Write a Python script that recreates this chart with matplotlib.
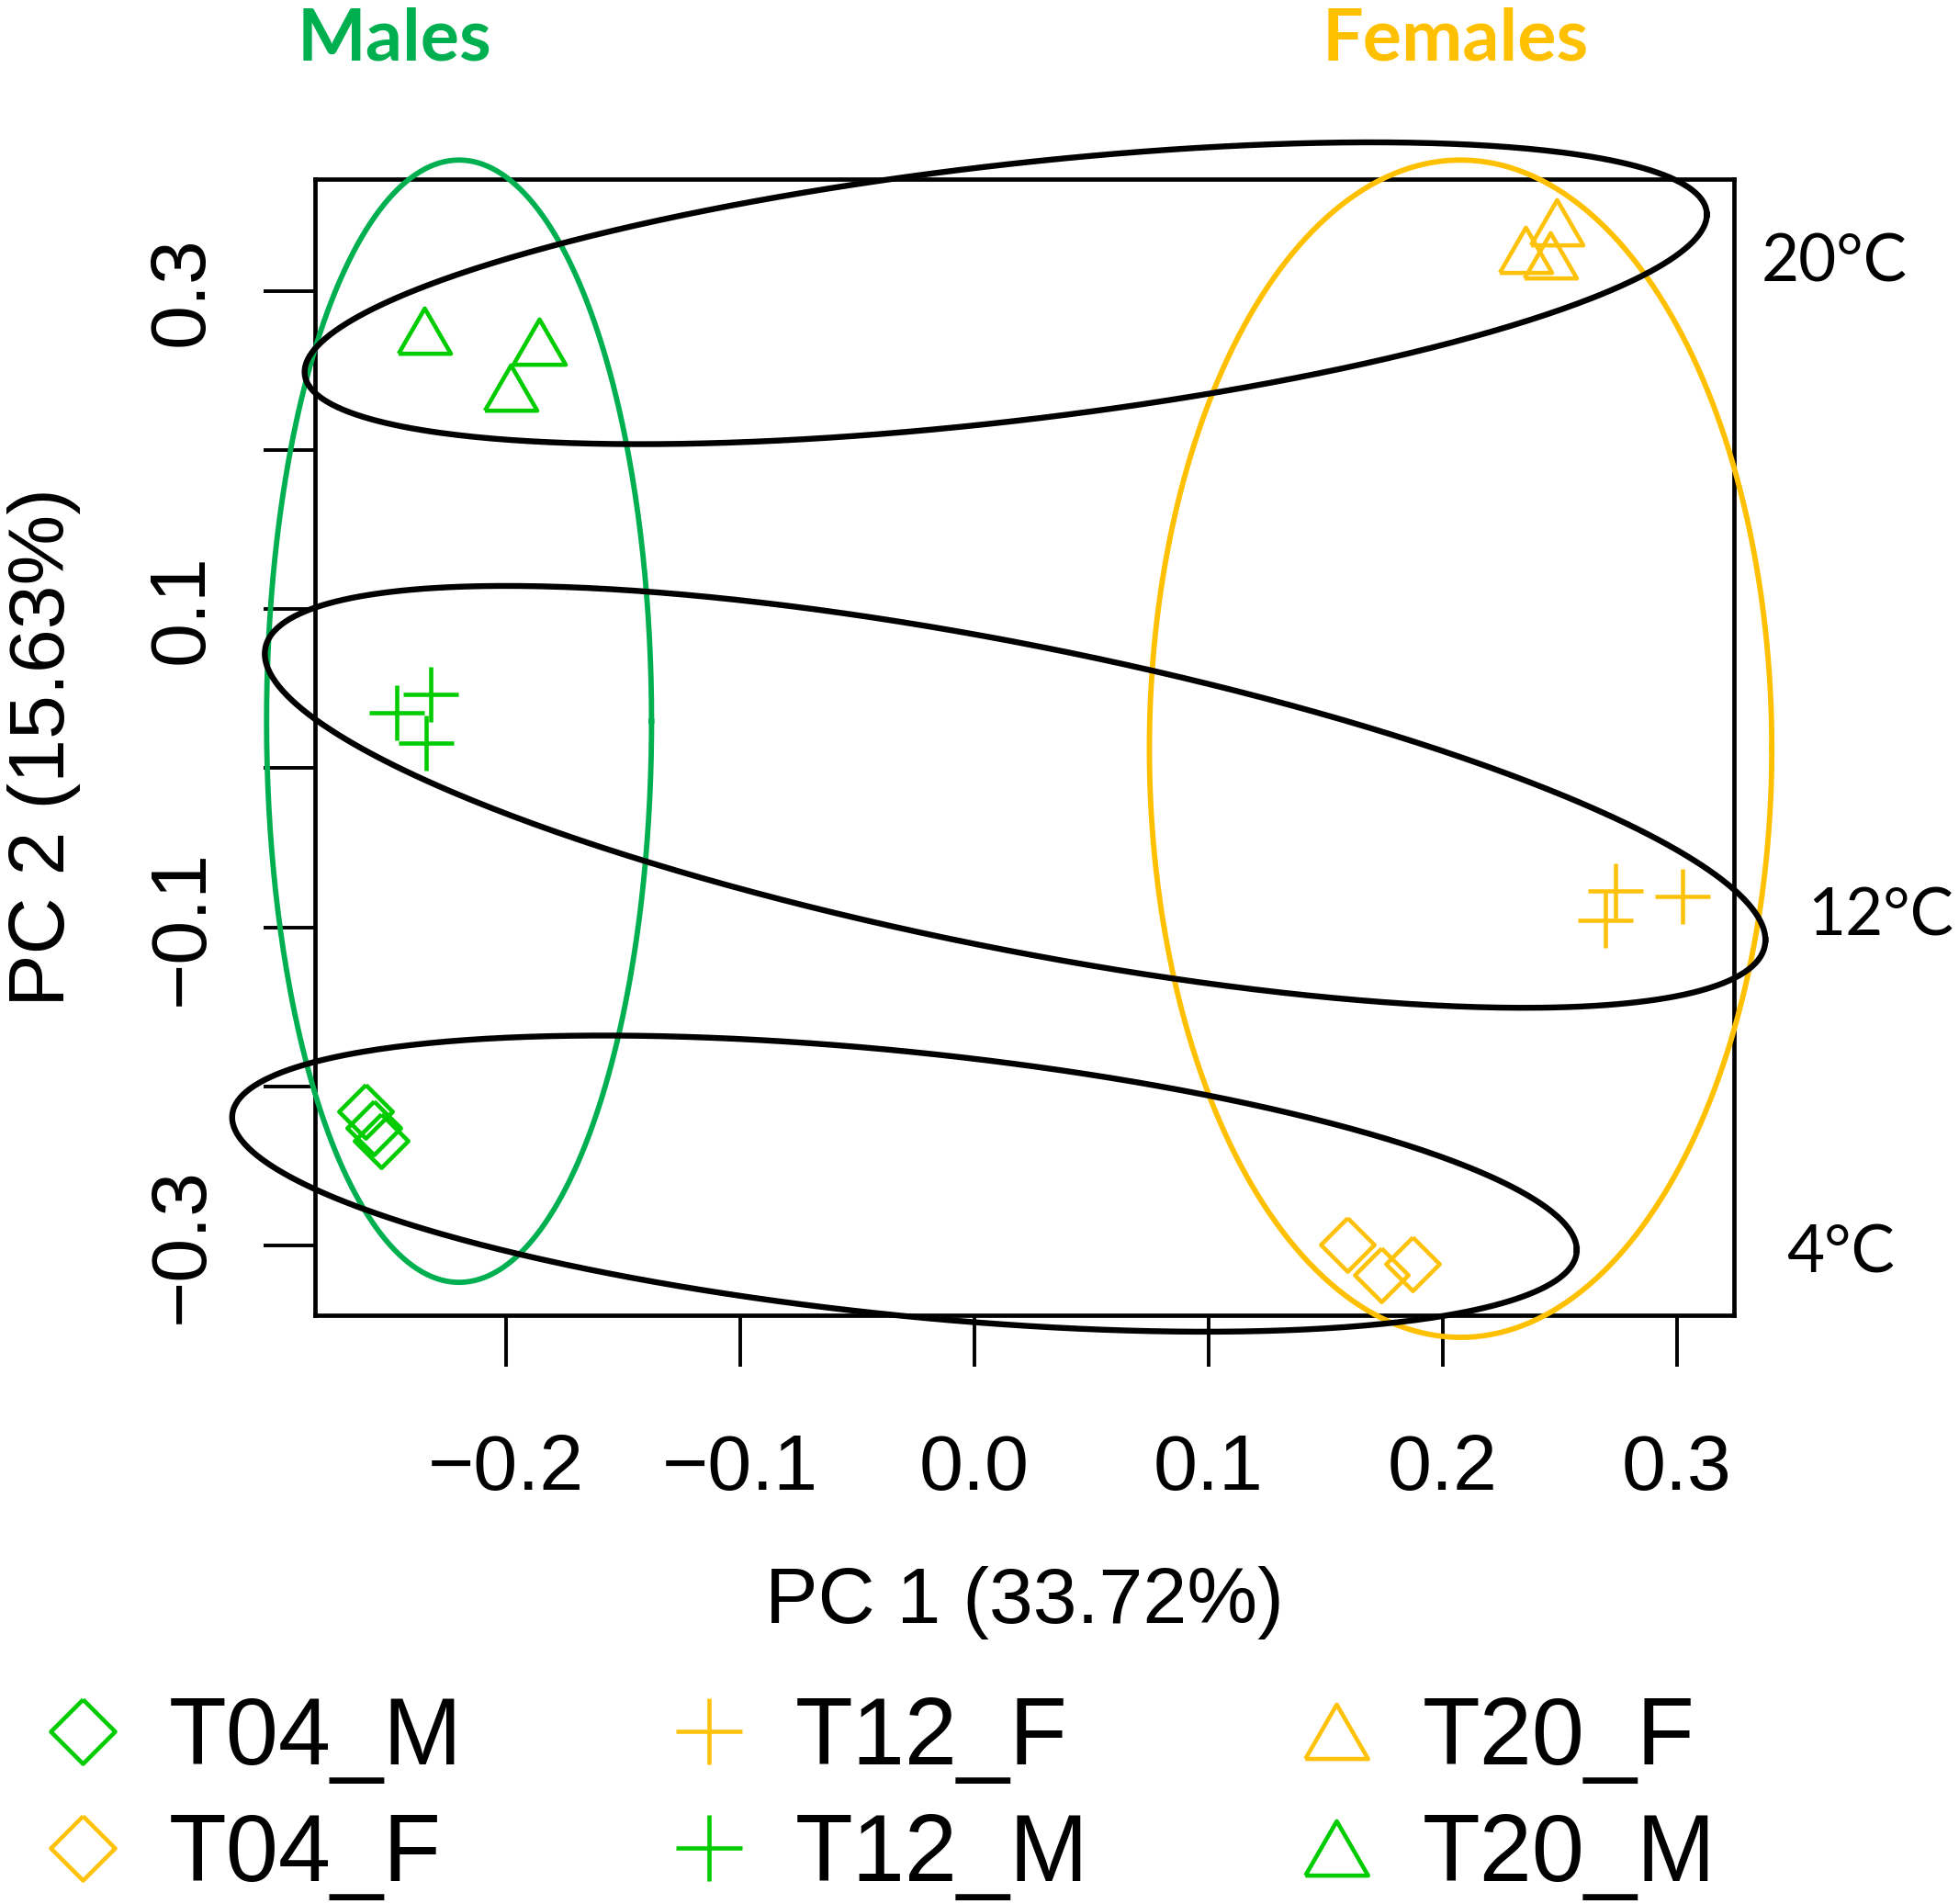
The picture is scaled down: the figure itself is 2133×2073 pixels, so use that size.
import numpy as np
import matplotlib.pyplot as plt

plt.rcParams['font.family'] = ['Liberation Sans', 'DejaVu Sans']

# PCA scores (PC1, PC2)
t04_m_x = [-0.2599, -0.2566, -0.2533]
t04_m_y = [-0.2157, -0.2263, -0.2341]
t04_f_x = [0.1595, 0.1739, 0.1873]
t04_f_y = [-0.2995, -0.3187, -0.3120]
t12_f_x = [0.2739, 0.2695, 0.3024]
t12_f_y = [-0.0771, -0.0954, -0.0809]
t12_m_x = [-0.2468, -0.2320, -0.2341]
t12_m_y = [0.0350, 0.0465, 0.0157]
t20_f_x = [0.2488, 0.2354, 0.2461]
t20_f_y = [0.3432, 0.3260, 0.3228]
t20_m_x = [-0.2347, -0.1860, -0.1980]
t20_m_y = [0.2750, 0.2686, 0.2395]

# hand drawn group ellipses: centre, x half-extent, y shift at the x extreme, half height at centre
ell_names = ['Males', 'Females', '20C', '12C', '4C']
ell_cx = [-0.2200, 0.2077, 0.01345, 0.01745, -0.0298]
ell_cy = [0.0296, 0.0123, 0.2988, -0.0180, -0.2613]
ell_a = [0.0822, 0.1329, 0.2994, 0.3204, 0.2871]
ell_b = [0.0, 0.0, 0.0495, -0.0900, -0.0417]
ell_d = [0.3530, 0.3703, 0.0810, 0.0975, 0.0833]
ell_col = ['#00B050', '#FFC000', 'black', 'black', 'black']

green = '#00CC00'
gold = '#FFC20A'

tri = [(-1, -0.866), (1, -0.866), (0, 0.866), (-1, -0.866)]
dia = [(0, 1), (1, 0), (0, -1), (-1, 0), (0, 1)]

fig = plt.figure(figsize=(21.33, 20.73), dpi=100)
ax = fig.add_axes([0.1607, 0.3093, 0.7245, 0.5968])

kw = dict(ls='none', mfc='none', mew=3.3)
ax.plot(t04_m_x, t04_m_y, marker=dia, ms=42, mec=green, label='T04_M', **kw)
ax.plot(t04_f_x, t04_f_y, marker=dia, ms=42, mec=gold, label='T04_F', **kw)
ax.plot(t12_f_x, t12_f_y, marker='+', ms=43, mec=gold, label='T12_F', **kw)
ax.plot(t12_m_x, t12_m_y, marker='+', ms=43, mec=green, label='T12_M', **kw)
ax.plot(t20_f_x, t20_f_y, marker=tri, ms=41, mec=gold, label='T20_F', **kw)
ax.plot(t20_m_x, t20_m_y, marker=tri, ms=41, mec=green, label='T20_M', **kw)

t = np.linspace(0, 2 * np.pi, 500)
for i in range(len(ell_names)):
    ex = ell_cx[i] + ell_a[i] * np.cos(t)
    ey = ell_cy[i] + ell_b[i] * np.cos(t) + ell_d[i] * np.sin(t)
    lw = 4.6 if ell_col[i] == 'black' else 4.2
    ax.plot(ex, ey, color=ell_col[i], lw=lw, clip_on=False, zorder=3)

ax.set_xlim(-0.2816, 0.3245)
ax.set_ylim(-0.344, 0.3708)
ax.set_xticks([-0.2, -0.1, 0.0, 0.1, 0.2, 0.3])
ax.set_xticklabels(['\u22120.2', '\u22120.1', '0.0', '0.1', '0.2', '0.3'])
ax.set_yticks([-0.3, -0.2, -0.1, 0.0, 0.1, 0.2, 0.3])
ax.set_yticklabels(['\u22120.3', '', '\u22120.1', '', '0.1', '', '0.3'],
                   rotation=90, va='center')
ax.tick_params(axis='both', length=40, width=2.8, labelsize=62)
ax.tick_params(axis='x', pad=52)
ax.tick_params(axis='y', pad=35)
for s in ax.spines.values():
    s.set_linewidth(3.4)

fig.text(0.523, 0.1582, 'PC 1 (33.72%)', ha='center', va='center', fontsize=62)
fig.text(0.0223, 0.6077, 'PC 2 (15.63%)', ha='center', va='center', rotation=90, fontsize=62)

fig.text(0.2015, 0.979, 'Males', ha='center', va='center', fontsize=57,
         fontweight='bold', color='#00B050', family='Lato')
fig.text(0.743, 0.979, 'Females', ha='center', va='center', fontsize=57,
         fontweight='bold', color='#FFC000', family='Lato')
fig.text(0.8992, 0.8621, '20°C', ha='left', va='center', fontsize=51, family='Lato')
fig.text(0.9228, 0.5187, '12°C', ha='left', va='center', fontsize=51, family='Lato')
fig.text(0.9120, 0.3414, '4°C', ha='left', va='center', fontsize=51, family='Lato')

fig.legend(loc='upper left', bbox_to_anchor=(0.018, 0.1095), ncol=3, frameon=False,
           fontsize=74, markerscale=1.2, handlelength=1.0, handletextpad=0.41,
           columnspacing=2.12, labelspacing=0.29, borderpad=0, borderaxespad=0)

fig.savefig('out.png', dpi=100, facecolor='white')
